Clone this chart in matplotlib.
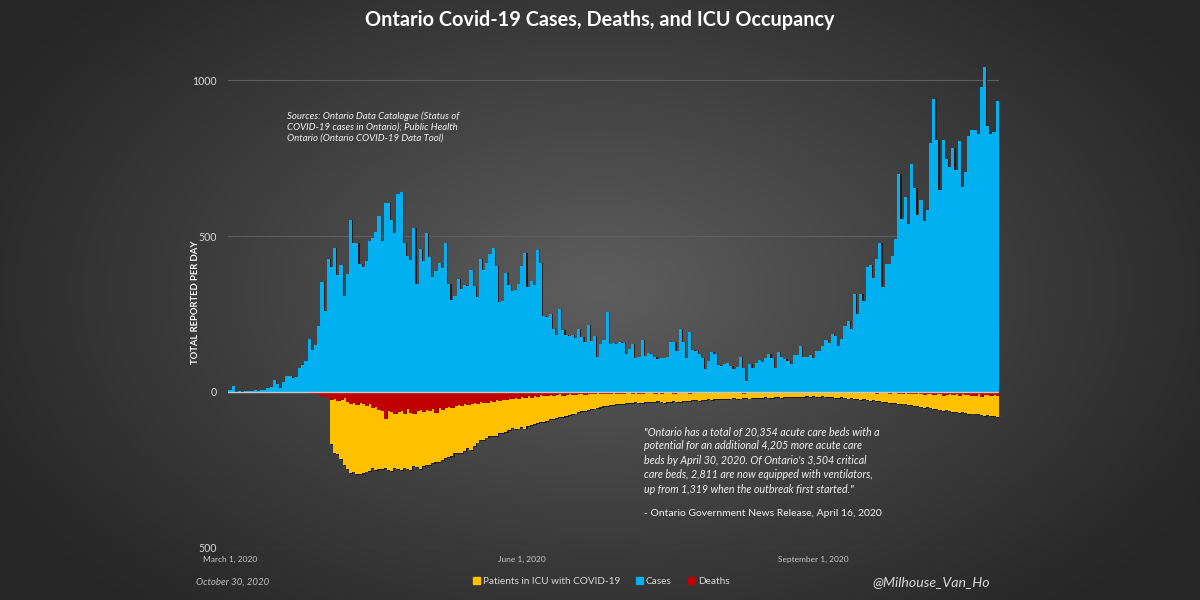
import numpy as np
import pandas as pd
import matplotlib
matplotlib.use("Agg")
import matplotlib.pyplot as plt
from matplotlib.patches import Patch

# ---------------- data ----------------
start_date = "2020-03-01"
cases_mar = [5, 18, 0, 2, 1, 3, 3, 3, 5, 3, 5, 8, 14, 16, 37, 25, 12, 32, 50, 50, 45, 48, 76, 85, 100, 170, 135, 151, 211, 351, 260]
cases_apr = [426, 401, 462, 375, 408, 309, 379, 550, 478, 478, 411, 401, 421, 483, 494, 514, 565, 485, 606, 606, 551, 510, 634, 640, 476, 437, 424, 525, 347, 459]
cases_may = [421, 511, 434, 370, 387, 412, 399, 477, 346, 294, 308, 361, 329, 344, 341, 391, 340, 304, 427, 390, 413, 441, 460, 404, 287, 292, 383, 344, 323, 326, 346]
cases_jun = [404, 446, 338, 356, 344, 455, 415, 243, 239, 251, 203, 182, 266, 198, 184, 181, 184, 173, 203, 177, 160, 215, 164, 180, 111, 154, 168, 257, 153, 157]
cases_jul = [153, 161, 157, 121, 137, 153, 110, 112, 166, 115, 126, 123, 112, 105, 108, 108, 111, 161, 159, 131, 201, 161, 110, 192, 134, 132, 121, 110, 73, 99, 129]
cases_aug = [121, 87, 83, 89, 92, 83, 73, 80, 112, 78, 35, 89, 78, 94, 101, 95, 110, 123, 110, 78, 129, 112, 105, 99, 89, 118, 119, 147, 112, 112, 118]
cases_sep = [110, 131, 131, 147, 166, 158, 187, 179, 147, 169, 212, 228, 201, 313, 251, 315, 293, 401, 407, 365, 425, 478, 335, 409, 409, 435, 491, 700, 554, 625]
cases_oct = [538, 732, 653, 566, 615, 548, 583, 797, 939, 809, 649, 807, 746, 721, 783, 712, 805, 658, 704, 821, 841, 841, 826, 978, 1042, 851, 827, 834, 934]

icu_mar = [0] * 31
icu_apr = [0, 167, 196, 200, 216, 233, 246, 260, 255, 264, 263, 261, 255, 254, 243, 250, 247, 248, 245, 249, 252, 245, 248, 250, 243, 247, 250, 238, 241, 248]
icu_may = [238, 233, 233, 229, 225, 223, 219, 211, 208, 204, 196, 197, 195, 189, 181, 187, 173, 162, 155, 153, 146, 142, 141, 141, 131, 132, 127, 123, 115, 119, 117]
icu_jun = [113, 117, 110, 106, 104, 100, 95, 96, 93, 87, 88, 84, 79, 81, 78, 73, 72, 69, 64, 62, 61, 57, 55, 53, 50, 49, 45, 46, 43, 41]
icu_jul = [40, 38, 39, 36, 35, 34, 33, 35, 34, 31, 32, 33, 31, 30, 32, 34, 33, 31, 30, 32, 31, 29, 28, 30, 27, 26, 28, 27, 25, 24, 26]
icu_aug = [24, 23, 22, 24, 22, 21, 20, 22, 21, 19, 20, 21, 19, 18, 20, 19, 17, 18, 19, 17, 16, 18, 17, 16, 15, 17, 16, 15, 16, 14, 15]
icu_sep = [14, 15, 16, 14, 15, 17, 16, 18, 19, 17, 19, 21, 20, 22, 23, 25, 24, 26, 28, 27, 30, 29, 32, 31, 34, 36, 35, 38, 37, 40]
icu_oct = [42, 41, 45, 44, 47, 50, 48, 52, 55, 53, 57, 60, 58, 62, 64, 63, 66, 65, 68, 70, 69, 72, 71, 74, 76, 75, 78, 77, 80]

deaths_mar = [0, 0, 0, 0, 0, 0, 0, 0, 0, 0, 0, 0, 0, 0, 0, 0, 1, 0, 1, 0, 1, 1, 2, 3, 4, 5, 6, 8, 10, 13, 16]
deaths_apr = [18, 27, 22, 28, 25, 20, 32, 40, 36, 42, 35, 38, 45, 40, 52, 48, 58, 60, 86, 62, 63, 70, 65, 60, 72, 55, 66, 69, 60, 57]
deaths_may = [64, 58, 60, 55, 68, 50, 58, 52, 48, 50, 45, 42, 46, 40, 43, 38, 35, 40, 33, 35, 34, 30, 31, 27, 29, 25, 27, 22, 24, 20, 22]
deaths_jun = [15, 18, 12, 20, 14, 16, 10, 13, 12, 9, 14, 11, 8, 12, 10, 7, 9, 11, 8, 6, 9, 5, 8, 7, 4, 6, 8, 5, 7, 4]
deaths_jul = [6, 5, 8, 3, 4, 6, 2, 5, 7, 3, 4, 2, 5, 3, 6, 2, 4, 3, 5, 2, 4, 1, 3, 5, 2, 3, 1, 4, 2, 3, 2]
deaths_aug = [3, 1, 2, 4, 2, 1, 3, 2, 1, 5, 2, 3, 1, 2, 4, 1, 2, 3, 1, 2, 1, 3, 2, 4, 1, 2, 3, 1, 2, 3, 1]
deaths_sep = [2, 1, 3, 0, 2, 1, 1, 2, 3, 1, 2, 4, 1, 2, 3, 1, 2, 4, 3, 2, 5, 3, 4, 2, 5, 4, 3, 6, 5, 4]
deaths_oct = [6, 5, 8, 4, 6, 9, 7, 5, 10, 8, 6, 12, 9, 7, 11, 8, 13, 6, 10, 9, 14, 12, 8, 15, 11, 9, 13, 10, 12]

tick_dates = ["2020-03-01", "2020-06-01", "2020-09-01"]
tick_labels = ["March 1, 2020", "June 1, 2020", "September 1, 2020"]
ytick_values = [1000, 500, 0, -500]
ytick_labels = ["1000", "500", "0", "500"]

cases = np.array(cases_mar + cases_apr + cases_may + cases_jun + cases_jul + cases_aug + cases_sep + cases_oct, float)
icu = np.array(icu_mar + icu_apr + icu_may + icu_jun + icu_jul + icu_aug + icu_sep + icu_oct, float)
deaths = np.array(deaths_mar + deaths_apr + deaths_may + deaths_jun + deaths_jul + deaths_aug + deaths_sep + deaths_oct, float)

dates = pd.date_range(start_date, periods=len(cases), freq="D")
x = np.array((dates - dates[0]).days, float)
tick_pos = [(pd.Timestamp(d) - dates[0]).days for d in tick_dates]

# ---------------- style ----------------
BLUE = "#00B0F0"
YELLOW = "#FFC000"
RED = "#C00000"
SHADOW = "#1b1b1b"
FONT = "Lato"

W, H = 1200, 600
fig = plt.figure(figsize=(12, 6), dpi=100)

# background radial gradient
bg = fig.add_axes([0, 0, 1, 1], zorder=-10)
yy, xx = np.mgrid[0:H, 0:W]
r = np.sqrt(((xx - 600) / 700.0) ** 2 + ((yy - 290) / 430.0) ** 2)
t = np.clip(1 - r, 0, 1) ** 1.1
edge = np.array([0.15, 0.15, 0.15])
center = np.array([0.37, 0.37, 0.37])
img = edge[None, None, :] + (center - edge)[None, None, :] * t[:, :, None]
bg.imshow(img, aspect="auto", extent=[0, W, H, 0])
bg.set_xlim(0, W)
bg.set_ylim(H, 0)
bg.axis("off")

# plot axes: x = 230 + 3.17*d px ; y: 0 at 391px, 312px per 1000
x0, x1 = -0.6, 242.6
px_per_day = 3.17
left_px = 230 + x0 * px_per_day
right_px = 230 + x1 * px_per_day
ymin, ymax = -500, 1100
bottom_px = 548
top_px = 548 - (ymax - ymin) * 0.312
ax = fig.add_axes([left_px / W, 1 - bottom_px / H, (right_px - left_px) / W, (bottom_px - top_px) / H])
ax.set_facecolor("none")
ax.patch.set_alpha(0)

sh = 0.38
ax.bar(x + sh, cases, width=1.0, color=SHADOW, linewidth=0, zorder=2)
ax.bar(x, cases, width=1.0, color=BLUE, linewidth=0, zorder=3)
ax.bar(x + sh, -(icu + 3 * (icu > 0)), width=1.0, color=SHADOW, linewidth=0, zorder=2)
ax.bar(x, -icu, width=1.0, color=YELLOW, linewidth=0, zorder=3)
ax.bar(x + sh, -deaths, width=1.0, color="#7a0000", linewidth=0, zorder=4)
ax.bar(x, -deaths, width=1.0, color=RED, linewidth=0, zorder=5)

for v in [1000, 500, -500]:
    ax.axhline(v, color="#5e5e5e", lw=0.8, zorder=1)
ax.axhline(0, color="#c8c8c8", lw=1.0, zorder=6)

ax.set_xlim(x0, x1)
ax.set_ylim(ymin, ymax)
for s in ax.spines.values():
    s.set_visible(False)
ax.set_yticks(ytick_values)
ax.set_yticklabels(ytick_labels, fontfamily=FONT, fontsize=7.6, color="#d9d9d9")
ax.set_xticks(tick_pos)
ax.set_xticklabels(tick_labels, fontfamily=FONT, fontsize=6, color="#c8c8c8")
ax.tick_params(axis="both", length=0)
ax.tick_params(axis="y", pad=8)
ax.tick_params(axis="x", pad=6)

# texts
fig.text(600 / W, 1 - 20 / H, "Ontario Covid-19 Cases, Deaths, and ICU Occupancy",
         ha="center", va="center", fontfamily=FONT, fontweight="bold", fontsize=14.3, color="white")
fig.text(196 / W, 1 - 302 / H, "TOTAL REPORTED PER DAY", rotation=90, ha="center", va="center",
         fontfamily=FONT, fontweight="bold", fontsize=6.8, color="white")
fig.text(287 / W, 1 - 111 / H,
         "Sources: Ontario Data Catalogue (Status of\nCOVID-19 cases in Ontario); Public Health\nOntario (Ontario COVID-19 Data Tool)",
         ha="left", va="top", fontfamily=FONT, style="italic", fontsize=6.9, color="#f2f2f2", linespacing=1.3)
fig.text(644 / W, 1 - 426 / H,
         "\"Ontario has a total of 20,354 acute care beds with a\npotential for an additional 4,205 more acute care\n"
         "beds by April 30, 2020. Of Ontario's 3,504 critical\ncare beds, 2,811 are now equipped with ventilators,\n"
         "up from 1,319 when the outbreak first started.\"",
         ha="left", va="top", fontfamily=FONT, style="italic", fontsize=7.7, color="#f2f2f2", linespacing=1.38)
fig.text(644 / W, 1 - 513 / H, "- Ontario Government News Release, April 16, 2020",
         ha="left", va="center", fontfamily=FONT, fontsize=7.5, color="#f2f2f2")
fig.text(196 / W, 1 - 582 / H, "October 30, 2020", ha="left", va="center",
         fontfamily=FONT, style="italic", fontsize=6.9, color="#bfbfbf")
fig.text(990 / W, 1 - 582 / H, "@Milhouse_Van_Ho", ha="right", va="center",
         fontfamily=FONT, style="italic", fontsize=10.2, color="#d9d9d9")

handles = [Patch(color=YELLOW, label="Patients in ICU with COVID-19"),
           Patch(color=BLUE, label="Cases"),
           Patch(color=RED, label="Deaths")]
leg = fig.legend(handles=handles, loc="center", bbox_to_anchor=(601 / W, 1 - 581 / H), ncol=3,
                 frameon=False, handlelength=0.7, handleheight=0.7, handletextpad=0.3,
                 columnspacing=1.6, prop={"family": FONT, "size": 7.2})
for txt in leg.get_texts():
    txt.set_color("#d9d9d9")

fig.savefig("out.png", dpi=100)
